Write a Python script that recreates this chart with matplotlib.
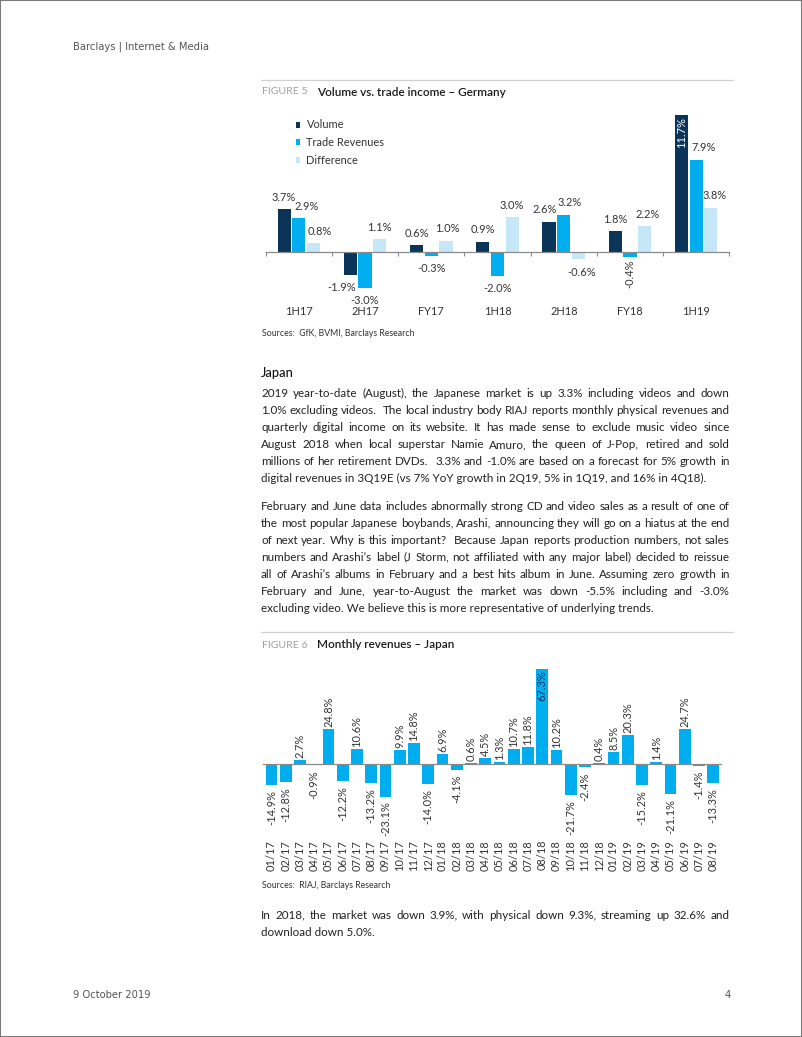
import matplotlib
matplotlib.use("Agg")
import matplotlib.pyplot as plt
from matplotlib.patches import Rectangle
from matplotlib.lines import Line2D
import numpy as np

W, H, DPI = 802, 1037, 100

# ---- Figure 5: Germany ----
periods = ["1H17", "2H17", "FY17", "1H18", "2H18", "FY18", "1H19"]
volume = [3.7, -1.9, 0.6, 0.9, 2.6, 1.8, 11.7]
trade_revenues = [2.9, -3.0, -0.3, -2.0, 3.2, -0.4, 7.9]
difference = [0.8, 1.1, 1.0, 3.0, -0.6, 2.2, 3.8]
series_names = ["Volume", "Trade Revenues", "Difference"]

# ---- Figure 6: Japan ----
months = ["01/17", "02/17", "03/17", "04/17", "05/17", "06/17", "07/17", "08/17",
          "09/17", "10/17", "11/17", "12/17", "01/18", "02/18", "03/18", "04/18",
          "05/18", "06/18", "07/18", "08/18", "09/18", "10/18", "11/18", "12/18",
          "01/19", "02/19", "03/19", "04/19", "05/19", "06/19", "07/19", "08/19"]
monthly_growth = [-14.9, -12.8, 2.7, -0.9, 24.8, -12.2, 10.6, -13.2,
                  -23.1, 9.9, 14.8, -14.0, 6.9, -4.1, 0.6, 4.5,
                  1.3, 10.7, 11.8, 67.3, 10.2, -21.7, -2.4, 0.4,
                  8.5, 20.3, -15.2, 1.4, -21.1, 24.7, -1.4, -13.3]

para1 = [
    "2019 year-to-date (August), the Japanese market is up 3.3% including videos and down",
    "1.0% excluding videos.  The local industry body RIAJ reports monthly physical revenues and",
    "quarterly digital income on its website. It has made sense to exclude music video since",
    "August 2018 when local superstar Namie Amuro, the queen of J-Pop, retired and sold",
    "millions of her retirement DVDs.  3.3% and -1.0% are based on a forecast for 5% growth in",
    "digital revenues in 3Q19E (vs 7% YoY growth in 2Q19, 5% in 1Q19, and 16% in 4Q18).",
]
para2 = [
    "February and June data includes abnormally strong CD and video sales as a result of one of",
    "the most popular Japanese boybands, Arashi, announcing they will go on a hiatus at the end",
    "of next year. Why is this important?  Because Japan reports production numbers, not sales",
    "numbers and Arashi\u2019s label (J Storm, not affiliated with any major label) decided to reissue",
    "all of Arashi\u2019s albums in February and a best hits album in June. Assuming zero growth in",
    "February and June, year-to-August the market was down -5.5% including and -3.0%",
    "excluding video. We believe this is more representative of underlying trends.",
]
para3 = [
    "In 2018, the market was down 3.9%, with physical down 9.3%, streaming up 32.6% and",
    "download down 5.0%.",
]

NAVY = "#0b3558"
CYAN = "#00aeef"
LIGHT = "#c6e7f7"
TEXT = "#222222"
GREY = "#a0a0a0"
AXIS = "#8a8a8a"
BODY = ["Lato", "DejaVu Sans"]

fig = plt.figure(figsize=(W / DPI, H / DPI), dpi=DPI)
renderer = fig.canvas.get_renderer()


def fx(x):
    return x / W


def fy(y):
    return 1 - y / H


def width_px(s, size, family=BODY, weight="normal"):
    t = fig.text(0, 0, s, fontsize=size, family=family, weight=weight)
    w = t.get_window_extent(renderer).width
    t.remove()
    return w


def fit(s, target, family=BODY, weight="normal"):
    return 10 * target / width_px(s, 10, family, weight)


def txt(x, y, s, size, family=BODY, **kw):
    kw.setdefault("color", TEXT)
    kw.setdefault("va", "center")
    return fig.text(fx(x), fy(y), s, fontsize=size, family=family, **kw)


def paragraph(lines, y0, size, lead, left=261, right=729.5, justify_last=False):
    # y0 is the visual centre of the first line; words share one baseline
    base = size * DPI / 72 * 0.36
    for i, line in enumerate(lines):
        y = y0 + i * lead + base
        if i == len(lines) - 1 and not justify_last:
            txt(left, y, line, size, va="baseline")
            continue
        words = line.split(" ")
        ws = [width_px(w, size) if w else 0 for w in words]
        gap = (right - left - sum(ws)) / (len(words) - 1)
        x = left
        for w, wd in zip(words, ws):
            if w:
                txt(x, y, w, size, va="baseline")
            x += wd + gap


# page frame, header, footer
fig.add_artist(Rectangle((0, 0), 1, 1, transform=fig.transFigure, fill=False,
                         ec="#7a7a7a", lw=1.5))
narrow = ["Liberation Sans Narrow", "DejaVu Sans Condensed", "DejaVu Sans"]
hs = fit("Barclays | Internet & Media", 136, narrow)
txt(72.8, 47, "Barclays | Internet & Media", hs, narrow, color="#555555")
txt(72.8, 995, "9 October 2019", hs, narrow, color="#555555")
txt(731, 995, "4", hs, narrow, color="#555555", ha="right")

for ysep in (79.5, 632.3):
    fig.add_artist(Line2D([fx(261), fx(733)], [fy(ysep)] * 2, color="#d0d0d0", lw=0.9))

# titles
fs_fig = fit("FIGURE 5", 45)
fs_title = fit("Volume vs. trade income \u2013 Germany", 190, weight="semibold")
txt(261.7, 92, "FIGURE 5", fs_fig, color=GREY)
txt(316.7, 92, "Volume vs. trade income \u2013 Germany", fs_title, weight="semibold", color="#1a1a1a")
txt(261.7, 645, "FIGURE 6", fs_fig, color=GREY)
txt(316.7, 645, "Monthly revenues \u2013 Japan", fs_title, weight="semibold", color="#1a1a1a")

# body text
fs_body = fit(para1[-1], 441)
txt(261, 372.7, "Japan", fit("Japan", 33, weight="medium"), weight="medium", color="#111111")
paragraph(para1, 393.3, fs_body, 16.95)
paragraph(para2, 505.7, fs_body, 16.95)
paragraph(para3, 914.5, fs_body, 17.5)

fs_src = fit("Sources:  GfK, BVMI, Barclays Research", 152)
txt(261.7, 333, "Sources:  GfK, BVMI, Barclays Research", fs_src, color="#333333")
txt(261.7, 885, "Sources:  RIAJ, Barclays Research", fs_src, color="#333333")

fs_chart = 0.5 * (fit("01/17", 28) + fit("24.8%", 33))
PT = 72 / DPI  # px -> points


def px_axes(left, right, top, bottom):
    return fig.add_axes([fx(left), fy(bottom), (right - left) / W, (bottom - top) / H])


# ---------------- Figure 5 chart ----------------
ylo1, yhi1 = -4.5, 12.0
ax1 = px_axes(265.7, 729.3, 252.3 - yhi1 * 11.74, 252.3 - ylo1 * 11.74)
ax1.set_xlim(-0.5, len(periods) - 0.5)
ax1.set_ylim(ylo1, yhi1)
x = np.arange(len(periods))
step, bw = 0.221, 0.2
colors = [NAVY, CYAN, LIGHT]
all_series = [volume, trade_revenues, difference]
# small horizontal nudges (px) to mimic the original label placement
nudges = [[-1, -9, 0, 0, -4, 0, 0],
          [8, 0, 0, 0, 6, 0, 7],
          [6, 0, 1, 0, 3.5, 3, 4]]
for k, (vals, col, name) in enumerate(zip(all_series, colors, series_names)):
    xs = x + (k - 1) * step
    ax1.bar(xs, vals, bw, color=col, label=name, zorder=2)
    for i, (xi, v) in enumerate(zip(xs, vals)):
        s = f"{v:.1f}%"
        if k == 0 and v == max(volume):
            ax1.annotate(s, (xi, v), xytext=(0, -2 * PT), textcoords="offset points",
                         ha="center", va="top", rotation=90, color="white",
                         fontsize=fs_chart, family=BODY)
        elif k == 1 and periods[i] == "FY18":
            ax1.annotate(s, (xi, v), xytext=(0, -3 * PT), textcoords="offset points",
                         ha="center", va="top", rotation=90, color="#333333",
                         fontsize=fs_chart, family=BODY)
        else:
            dy = 11.8 if v >= 0 else -12.8
            ax1.annotate(s, (xi, v), xytext=(nudges[k][i] * PT, dy * PT),
                         textcoords="offset points", ha="center", va="center",
                         color="#333333", fontsize=fs_chart, family=BODY)

for side in ("top", "right", "left"):
    ax1.spines[side].set_visible(False)
ax1.spines["bottom"].set_position(("data", 0))
ax1.spines["bottom"].set_color(AXIS)
ax1.spines["bottom"].set_linewidth(0.9)
ax1.set_yticks([])
ax1.set_xticks(x)
ax1.set_xticklabels(periods, fontsize=fs_chart, family=BODY, color="#333333")
ax1.set_xticks(np.arange(-0.5, len(periods)), minor=True)
ax1.tick_params(axis="x", which="major", length=0, pad=54 * PT)
ax1.tick_params(axis="x", which="minor", length=3.5 * PT, width=0.8, color=AXIS,
                direction="out")
ax1.patch.set_alpha(0)
leg = ax1.legend(loc="upper left", bbox_to_anchor=(fx(295.5), fy(119.5)),
                 bbox_transform=fig.transFigure, frameon=False,
                 prop={"family": BODY, "size": fs_chart}, handlelength=0.45,
                 handleheight=0.45, handletextpad=0.55, labelspacing=0.62,
                 borderpad=0, borderaxespad=0)
for t in leg.get_texts():
    t.set_color("#333333")

# ---------------- Figure 6 chart ----------------
scale2 = 1.4116
ylo2, yhi2 = -25.0, 68.5
ax2 = px_axes(263.2, 720.7, 764 - yhi2 * scale2, 764 - ylo2 * scale2)
xm = np.arange(len(months))
ax2.set_xlim(-0.58, len(months) - 0.48)
ax2.set_ylim(ylo2, yhi2)
ax2.bar(xm, monthly_growth, 0.83, color=CYAN, zorder=2)
peak = max(monthly_growth)
for xi, v in zip(xm, monthly_growth):
    s = f"{v:.1f}%"
    if v == peak:
        ax2.annotate(s, (xi, v), xytext=(0, -1 * PT), textcoords="offset points",
                     ha="center", va="top", rotation=90, color=NAVY,
                     fontsize=fs_chart, family=BODY)
    elif v >= 0:
        ax2.annotate(s, (xi, v), xytext=(0, 2 * PT), textcoords="offset points",
                     ha="center", va="bottom", rotation=90, color="#333333",
                     fontsize=fs_chart, family=BODY)
    else:
        ax2.annotate(s, (xi, v), xytext=(0, -5 * PT), textcoords="offset points",
                     ha="center", va="top", rotation=90, color="#333333",
                     fontsize=fs_chart, family=BODY)

for side in ("top", "right", "left"):
    ax2.spines[side].set_visible(False)
ax2.spines["bottom"].set_position(("data", 0))
ax2.spines["bottom"].set_color(AXIS)
ax2.spines["bottom"].set_linewidth(0.9)
ax2.set_yticks([])
ax2.set_xticks(xm)
ax2.set_xticklabels(months, rotation=90, fontsize=fs_chart, family=BODY, color="#333333")
ax2.tick_params(axis="x", length=0, pad=76 * PT)
ax2.patch.set_alpha(0)

fig.savefig("out.png", dpi=DPI)
